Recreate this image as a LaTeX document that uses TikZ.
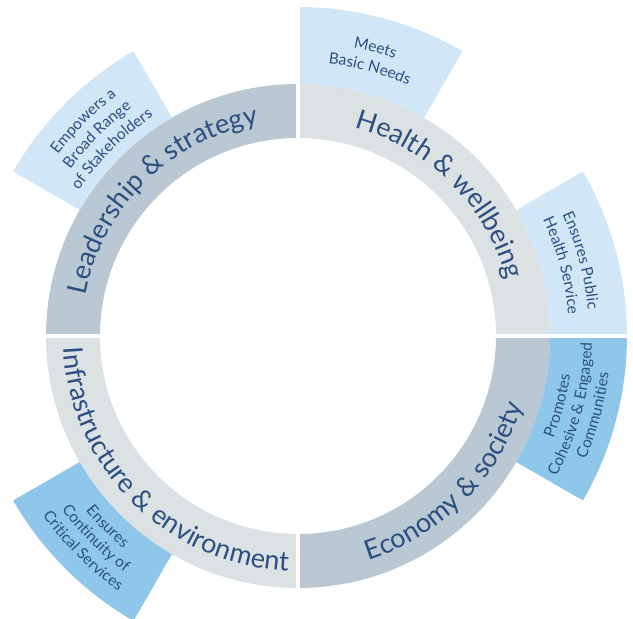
\documentclass[tikz,border=0pt]{standalone}
\usepackage{fontspec}
\usepackage{tikz}
\newfontfamily\labelFont{Lato}

\definecolor{ringDark}{HTML}{B9C8D2}
\definecolor{ringLight}{HTML}{DCE1E4}
\definecolor{petalLight}{HTML}{D1E6F7}
\definecolor{petalDark}{HTML}{8FC7EA}
\definecolor{textBlue}{HTML}{2C4F82}

\def\ringFont{\labelFont\fontsize{27}{30}\selectfont}
\def\petalFont{\labelFont\fontsize{15.5}{18}\selectfont}

\tikzset{arcLetter/.style={inner sep=0pt, anchor=base, text=textBlue}}

% Letters set one by one along an arc.
\newbox\arcBox
\makeatletter
\def\arcMeasure#1{%
  \pgfinterruptpicture\global\setbox\arcBox\hbox{#1}\endpgfinterruptpicture
  \edef\arcW{\the\wd\arcBox}}
\def\arcLoop{\futurelet\arcNext\arcCheck}
\def\arcStop{\arcStop}
\def\arcCheck{%
  \ifx\arcNext\arcStop \let\arcDo\@gobble
  \else\ifx\arcNext\@sptoken \let\arcDo\arcSpace
  \else \let\arcDo\arcChar
  \fi\fi
  \arcDo}
\def\arcSpace{\afterassignment\arcSpaceStep\let\arcTmp= }
\def\arcSpaceStep{\arcPlace{\ }\arcLoop}
\def\arcChar#1{\arcPlace{#1}\arcLoop}
\def\arcPlace#1{%
  \arcMeasure{\arcFont#1}%
  \pgfmathsetmacro{\arcMid}{\arcPos-(\arcDir)*\arcW/\arcRad*28.64789}%
  \pgfmathsetmacro{\arcPos}{\arcPos-(\arcDir)*\arcW/\arcRad*57.29578}%
  \node[arcLetter, rotate=\arcMid-(\arcDir)*90] at (\arcMid:\arcRad pt) {\arcFont#1};%
}
\makeatother

\begin{document}
\begin{tikzpicture}
		\useasboundingbox (-298pt,-283pt) rectangle (335pt,336pt);

		% Radii of the ring and of the outer slices.
		\def\rIn{198pt}
		\def\rOut{252pt}
		\def\rTip{329pt}

		% Define the macro.
		% 1st argument: Start angle of the slice.
		% 2nd argument: End angle of the slice.
		% 3rd argument: Inner radius.
		% 4th argument: Outer radius.
		% 5th argument: Fill colour.
		\newcommand{\ringSlice}[5]{
			\fill[fill=#5] (#1:#3) arc[start angle=#1, end angle=#2, radius=#3] -- (#2:#4) arc[start angle=#2, end angle=#1, radius=#4] -- cycle;
		}

		% 1st argument: Font and size.
		% 2nd argument: Angle of the middle of the text.
		% 3rd argument: Radius of the baseline (pt).
		% 4th argument: 1 --> clockwise, tops outward; -1 --> counter-clockwise, tops inward.
		% 5th argument: Text.
		\newcommand{\arcText}[5]{
			\def\arcFont{#1}\def\arcRad{#3}\def\arcDir{#4}
			\arcMeasure{#1#5}
			\pgfmathsetmacro{\arcPos}{#2+(#4)*\arcW/#3*28.64789}
			\arcLoop#5\arcStop
		}

		% RING
		\foreach \s/\e/\col in {90/180/ringDark, 0/90/ringLight, -90/0/ringDark, 180/270/ringLight}{
			\ringSlice{\s}{\e}{\rIn}{\rOut}{\col}
		}

		% OUTER SLICES
		\ringSlice{60}{90}{\rOut}{\rTip}{petalLight}    % basic needs
		\ringSlice{0}{30}{\rOut}{\rTip}{petalLight}     % public health
		\ringSlice{-30}{0}{\rOut}{\rTip}{petalDark}     % communities
		\ringSlice{210}{240}{\rOut}{\rTip}{petalDark}   % critical services
		\ringSlice{120}{150}{\rOut}{\rTip}{petalLight}  % stakeholders

		% White gaps between the quarters.
		\draw[white, line width=4pt] (0,-\rTip) -- (0,\rTip) (-\rTip,0) -- (\rTip,0);

		% RING LABELS
		\arcText{\ringFont}{135}{216}{1}{Leadership \& strategy}
		\arcText{\ringFont}{45}{216}{1}{Health \& wellbeing}
		\arcText{\ringFont}{-45}{235}{-1}{Economy \& society}
		\arcText{\ringFont}{225}{235}{-1}{Infrastructure \& environment}

		% OUTER LABELS
		\arcText{\petalFont}{75}{294}{1}{Meets}
		\arcText{\petalFont}{75}{274}{1}{Basic Needs}

		\arcText{\petalFont}{15}{291}{1}{Ensures Public}
		\arcText{\petalFont}{15}{271}{1}{Health Service}

		\arcText{\petalFont}{-15}{275}{-1}{Promotes}
		\arcText{\petalFont}{-15}{294}{-1}{Cohesive \& Engaged}
		\arcText{\petalFont}{-15}{313}{-1}{Communities}

		\arcText{\petalFont}{225}{275}{-1}{Ensures}
		\arcText{\petalFont}{225}{293}{-1}{Continuity of}
		\arcText{\petalFont}{225}{312}{-1}{Critical Services}

		\arcText{\petalFont}{135}{301}{1}{Empowers a}
		\arcText{\petalFont}{135}{282}{1}{Broad Range}
		\arcText{\petalFont}{135}{263}{1}{of Stakeholders}

	\end{tikzpicture}
\end{document}
